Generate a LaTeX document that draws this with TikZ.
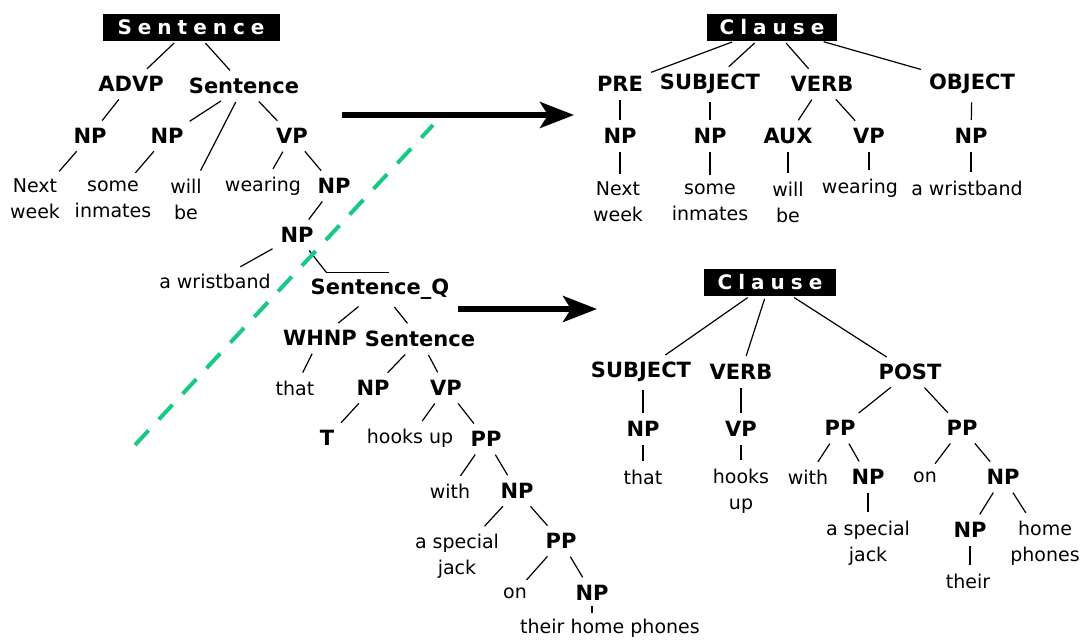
\documentclass[tikz,border=0pt]{standalone}
\usepackage{fontspec}
\usetikzlibrary{arrows.meta}
\newfontfamily\catfont{DejaVu Sans}[BoldFont={DejaVu Sans Bold}]
\newfontfamily\rootfont{DejaVu Sans Bold}[LetterSpace=30]
\newfontfamily\wordfont{DejaVu Sans}
\definecolor{cutgreen}{RGB}{25,200,130}
\tikzset{
  cat/.style={font=\catfont\bfseries\fontsize{10.5}{12}\selectfont, inner sep=2.5pt},
  word/.style={font=\wordfont\fontsize{9.5}{13}\selectfont, align=center, inner sep=2.5pt},
  rootbox/.style={fill=black, text=white, font=\rootfont\fontsize{10}{12}\selectfont,
    minimum height=13.5pt, inner sep=0pt},
  branch/.style={line width=0.6pt, shorten <=1.5pt, shorten >=1.5pt},
  bar/.style={line width=0.6pt},
  bigarrow/.style={line width=2.7pt, -{Stealth[length=17pt, width=13pt, inset=4pt]}},
  cutline/.style={cutgreen, line width=2pt, dash pattern=on 10pt off 7.5pt}
}
\begin{document}
\begin{tikzpicture}[x=0.5pt, y=-0.5pt]
\useasboundingbox (0,0) rectangle (1086,639);

% ---------- original parse tree ----------
\node[rootbox, minimum width=88.5pt] (s0) at (191,27) {Sentence};
\node[cat] (advp) at (131,84) {ADVP};
\node[cat] (s1) at (244,86) {Sentence};
\node[cat] (np1) at (90,136) {NP};
\node[cat] (np2) at (167,136) {NP};
\node[cat] (vp1) at (292,136) {VP};
\node[word] (wnext) at (35,199) {Next\\week};
\node[word] (wsome) at (113,199) {some\\inmates};
\node[word] (wwill) at (186,199) {will\\be};
\node[word] (wwear) at (263,186) {wearing};
\node[cat] (np3) at (334,186) {NP};
\node[cat] (np4) at (297,235) {NP};
\node[word] (wwrist) at (215,281) {a wristband};
\node[cat] (sq) at (380,289) {Sentence\_Q};
\node[cat] (whnp) at (320,338) {WHNP};
\node[cat] (s2) at (420,339) {Sentence};
\node[word] (wthat) at (295,388) {that};
\node[cat] (np5) at (373,388) {NP};
\node[cat] (vp2) at (446,388) {VP};
\node[cat] (wt) at (327,438) {T};
\node[word] (whooks) at (410,438) {hooks up};
\node[cat] (pp1) at (486,439) {PP};
\node[word] (wwith) at (450,491) {with};
\node[cat] (np6) at (517,491) {NP};
\node[word] (wspec) at (457,556) {a special\\jack};
\node[cat] (pp2) at (561,541) {PP};
\node[word] (won) at (515,593) {on};
\node[cat] (np7) at (592,593) {NP};
\node[word] (wtheir) at (610,628) {their home phones};

\draw[branch] (s0) -- (advp);
\draw[branch] (s0) -- (s1);
\draw[branch] (advp) -- (np1);
\draw[branch] (s1) -- (np2);
\draw[branch] (s1) -- (wwill);
\draw[branch] (s1) -- (vp1);
\draw[branch] (np1) -- (wnext);
\draw[branch] (np2) -- (wsome);
\draw[branch] (vp1) -- (wwear);
\draw[branch] (vp1) -- (np3);
\draw[branch] (np3) -- (np4);
\draw[branch] (np4) -- (wwrist);
% bar over Sentence_Q, with the branch from NP meeting its left end
\draw[bar] (sq.north west) ++(21,-1) coordinate (sqbar) -- ++(63,0);
\draw[branch, shorten >=0pt] (np4) -- (sqbar);
\draw[branch] (sq) -- (whnp);
\draw[branch] (sq) -- (s2);
\draw[branch] (whnp) -- (wthat);
\draw[branch] (s2) -- (np5);
\draw[branch] (s2) -- (vp2);
\draw[branch] (np5) -- (wt);
\draw[branch] (vp2) -- (whooks);
\draw[branch] (vp2) -- (pp1);
\draw[branch] (pp1) -- (wwith);
\draw[branch] (pp1) -- (np6);
\draw[branch] (np6) -- (wspec);
\draw[branch] (np6) -- (pp2);
\draw[branch] (pp2) -- (won);
\draw[branch] (pp2) -- (np7);
\draw[bar] (np7) -- (np7 |- wtheir.north);

% ---------- first clause ----------
\node[rootbox, minimum width=65pt] (c1) at (772,27) {Clause};
\node[cat] (pre) at (620,84) {PRE};
\node[cat] (subj) at (710,84) {SUBJECT};
\node[cat] (verb) at (822,84) {VERB};
\node[cat] (obj) at (972,84) {OBJECT};
\node[cat] (rnp1) at (620,136) {NP};
\node[cat] (rnp2) at (710,136) {NP};
\node[cat] (aux) at (788,136) {AUX};
\node[cat] (rvp) at (869,136) {VP};
\node[cat] (rnp3) at (971,136) {NP};
\node[word] (rnext) at (618,202) {Next\\week};
\node[word] (rsome) at (710,202) {some\\inmates};
\node[word] (rwill) at (788,202) {will\\be};
\node[word] (rwear) at (860,188) {wearing};
\node[word] (rwrist) at (967,188) {a wristband};

\draw[branch] (c1) -- (pre);
\draw[branch] (c1) -- (subj);
\draw[branch] (c1) -- (verb);
\draw[branch] (c1) -- (obj);
\draw[branch] (pre) -- (rnp1);
\draw[branch] (subj) -- (rnp2);
\draw[branch] (verb) -- (aux);
\draw[branch] (verb) -- (rvp);
\draw[branch] (obj) -- (rnp3);
\draw[branch] (rnp1) -- (rnp1 |- rnext.north);
\draw[branch] (rnp2) -- (rnp2 |- rsome.north);
\draw[branch] (aux) -- (aux |- rwill.north);
\draw[branch] (rvp) -- (rvp |- rwear.north);
\draw[branch] (rnp3) -- (rnp3 |- rwrist.north);

% ---------- second clause ----------
\node[rootbox, minimum width=66pt] (c2) at (770,282) {Clause};
\node[cat] (subjb) at (641,372) {SUBJECT};
\node[cat] (verbb) at (741,372) {VERB};
\node[cat] (post) at (910,372) {POST};
\node[cat] (qnp1) at (643,429) {NP};
\node[cat] (qvp) at (741,429) {VP};
\node[cat] (ppa) at (840,428) {PP};
\node[cat] (ppb) at (962,428) {PP};
\node[word] (qthat) at (643,477) {that};
\node[word] (qhooks) at (741,491) {hooks\\up};
\node[word] (qwith) at (808,477) {with};
\node[cat] (qnp2) at (868,477) {NP};
\node[word] (qon) at (925,477) {on};
\node[cat] (qnp3) at (1003,477) {NP};
\node[word] (qspec) at (868,543) {a special\\jack};
\node[cat] (qnp4) at (970,530) {NP};
\node[word] (qhome) at (1045,543) {home\\phones};
\node[word] (qtheir) at (968,581) {their};

\draw[branch] (c2) -- (subjb);
\draw[branch] (c2) -- (verbb);
\draw[branch] (c2) -- (post);
\draw[branch] (qnp1 |- subjb.south) -- (qnp1);
\draw[branch] (verbb) -- (qvp);
\draw[branch] (post) -- (ppa);
\draw[branch] (post) -- (ppb);
\draw[branch] (qnp1) -- (qthat);
\draw[branch] (qvp) -- (qhooks);
\draw[branch] (ppa) -- (qwith);
\draw[branch] (ppa) -- (qnp2);
\draw[branch] (ppb) -- (qon);
\draw[branch] (ppb) -- (qnp3);
\draw[branch] (qnp2) -- (qspec);
\draw[branch] (qnp3) -- (qnp4);
\draw[branch] (qnp3) -- (qhome);
\draw[branch] (qnp4) -- (qnp4 |- qtheir.north);

% ---------- transformation arrows ----------
\coordinate (a1s) at (342,115);
\coordinate (a1e) at (574,115);
\coordinate (a2s) at (458,309);
\coordinate (a2e) at (597,309);
\draw[bigarrow] (a1s) -- (a1e);
\draw[bigarrow] (a2s) -- (a2e);

% ---------- cut line ----------
\coordinate (g1) at (135,445);
\coordinate (g2) at (433,125);
\draw[cutline] (g1) -- (g2);
\end{tikzpicture}
\end{document}
